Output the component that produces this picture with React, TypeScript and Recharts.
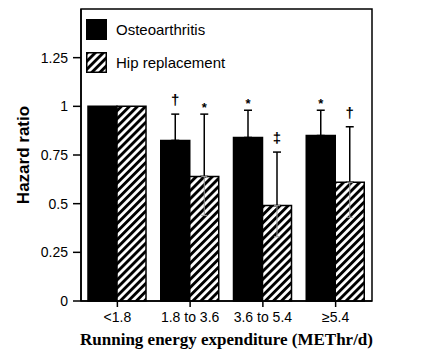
import {
  BarChart,
  Bar,
  XAxis,
  YAxis,
  ErrorBar,
  LabelList,
  Legend,
  ReferenceArea,
} from 'recharts';

const categories = ['<1.8', '1.8 to 3.6', '3.6 to 5.4', '≥5.4'];
const osteoarthritis = [1, 0.825, 0.84, 0.85];
const osteoUpper = [null, 0.96, 0.98, 0.98];
const osteoMarks = ['', '†', '*', '*'];
const hipReplacement = [1, 0.64, 0.49, 0.61];
const hipUpper = [null, 0.96, 0.765, 0.895];
const hipLower = [null, 0.44, 0.33, 0.43];
const hipMarks = ['', '*', '‡', '†'];
const yTicks = [0, 0.25, 0.5, 0.75, 1, 1.25];

const data = categories.map((name, i) => ({
  name,
  oa: osteoarthritis[i],
  hip: hipReplacement[i],
  oaErr: osteoUpper[i] == null ? null : [0, osteoUpper[i]! - osteoarthritis[i]],
  hipErr: hipUpper[i] == null ? null : [0, hipUpper[i]! - hipReplacement[i]],
  hipLowErr: hipLower[i] == null ? null : [hipReplacement[i] - hipLower[i]!, 0],
}));

const SANS = '"Liberation Sans", Arial, sans-serif';

// diagonal stripes, "/" direction
const Hatch = ({ id }: { id: string }) => (
  <pattern id={id} width="5.7" height="8" patternUnits="userSpaceOnUse" patternTransform="rotate(45)">
    <rect width="5.7" height="8" fill="#fff" />
    <rect width="2.9" height="8" fill="#000" />
  </pattern>
);

// symbol drawn just above the upper whisker of each bar
const markLabel =
  (marks: string[], uppers: (number | null)[], values: number[]) => (props: any) => {
    const { index } = props;
    const vb = props.viewBox ?? props;
    const mark = marks[index];
    const upper = uppers[index];
    if (!mark || upper == null) return null;
    const pxPerUnit = vb.height / values[index];
    const capY = vb.y - (upper - values[index]) * pxPerUnit;
    const isStar = mark === '*';
    return (
      <text
        x={vb.x + vb.width / 2}
        y={capY - (isStar ? 2 : 9)}
        textAnchor="middle"
        fontFamily={SANS}
        fontSize={isStar ? 13 : 15}
        fontWeight="bold"
        fill="#000"
      >
        {mark}
      </text>
    );
  };

function LegendBox() {
  const row = { display: 'flex', alignItems: 'center', height: 21 } as const;
  const text = { marginLeft: 9, fontSize: 15, fontFamily: SANS, color: '#000' };
  return (
    <div>
      <div style={row}>
        <svg width={21} height={21}>
          <rect x={0} y={0} width={21} height={21} fill="#000" />
        </svg>
        <span style={text}>Osteoarthritis</span>
      </div>
      <div style={{ ...row, marginTop: 12 }}>
        <svg width={21} height={21}>
          <defs>
            <Hatch id="hatchLegend" />
          </defs>
          <rect x={0.75} y={0.75} width={19.5} height={19.5} fill="url(#hatchLegend)" stroke="#000" strokeWidth={1.5} />
        </svg>
        <span style={text}>Hip replacement</span>
      </div>
    </div>
  );
}

export default function App() {
  return (
    <div style={{ position: 'absolute', left: 0, top: 0, background: '#fff' }}>
      <BarChart
        width={437}
        height={354}
        data={data}
        margin={{ top: 9, right: 65, left: 0, bottom: 0 }}
        barCategoryGap="10%"
        barGap={0}
      >
        <defs>
          <Hatch id="hatch" />
        </defs>
        <XAxis
          dataKey="name"
          height={53}
          tickSize={6}
          tickMargin={5}
          axisLine={{ stroke: '#000', strokeWidth: 1.5 }}
          tickLine={{ stroke: '#000', strokeWidth: 1.5 }}
          tick={{ fill: '#000', fontSize: 14, fontFamily: SANS }}
          label={{
            value: 'Running energy expenditure (METhr/d)',
            position: 'insideBottom',
            offset: 9,
            fill: '#000',
            fontSize: 17,
            fontWeight: 'bold',
            fontFamily: '"Liberation Serif", "Times New Roman", serif',
          }}
        />
        <YAxis
          width={81}
          domain={[0, 1.5]}
          ticks={yTicks}
          tickSize={8}
          tickMargin={5}
          axisLine={{ stroke: '#000', strokeWidth: 1.5 }}
          tickLine={{ stroke: '#000', strokeWidth: 1.5 }}
          tick={{ fill: '#000', fontSize: 14, fontFamily: SANS }}
          label={{
            content: ({ viewBox }: any) => (
              <text
                x={viewBox.x + 23}
                y={viewBox.y + viewBox.height / 2}
                transform={`rotate(-90, ${viewBox.x + 23}, ${viewBox.y + viewBox.height / 2})`}
                textAnchor="middle"
                dominantBaseline="central"
                fontFamily={SANS}
                fontSize={17}
                fontWeight="bold"
                fill="#000"
              >
                Hazard ratio
              </text>
            ),
          }}
        />
        <ReferenceArea y1={0} y2={1.5} fill="none" stroke="#000" strokeWidth={1.5} ifOverflow="visible" />
        <Legend
          layout="vertical"
          align="center"
          verticalAlign="middle"
          wrapperStyle={{ top: 19, left: 86, width: 'auto', height: 'auto' }}
          content={() => <LegendBox />}
        />
        <Bar dataKey="oa" name="Osteoarthritis" fill="#000" stroke="#000" strokeWidth={1.5} barSize={29} isAnimationActive={false}>
          <ErrorBar dataKey="oaErr" direction="y" width={4} stroke="#000" strokeWidth={1.5} />
          <LabelList dataKey="oa" content={markLabel(osteoMarks, osteoUpper, osteoarthritis)} />
        </Bar>
        <Bar dataKey="hip" name="Hip replacement" fill="url(#hatch)" stroke="#000" strokeWidth={1.5} barSize={29} isAnimationActive={false}>
          <ErrorBar dataKey="hipErr" direction="y" width={4} stroke="#000" strokeWidth={1.5} />
          <ErrorBar dataKey="hipLowErr" direction="y" width={3} stroke="#999" strokeWidth={1} />
          <LabelList dataKey="hip" content={markLabel(hipMarks, hipUpper, hipReplacement)} />
        </Bar>
      </BarChart>
    </div>
  );
}
